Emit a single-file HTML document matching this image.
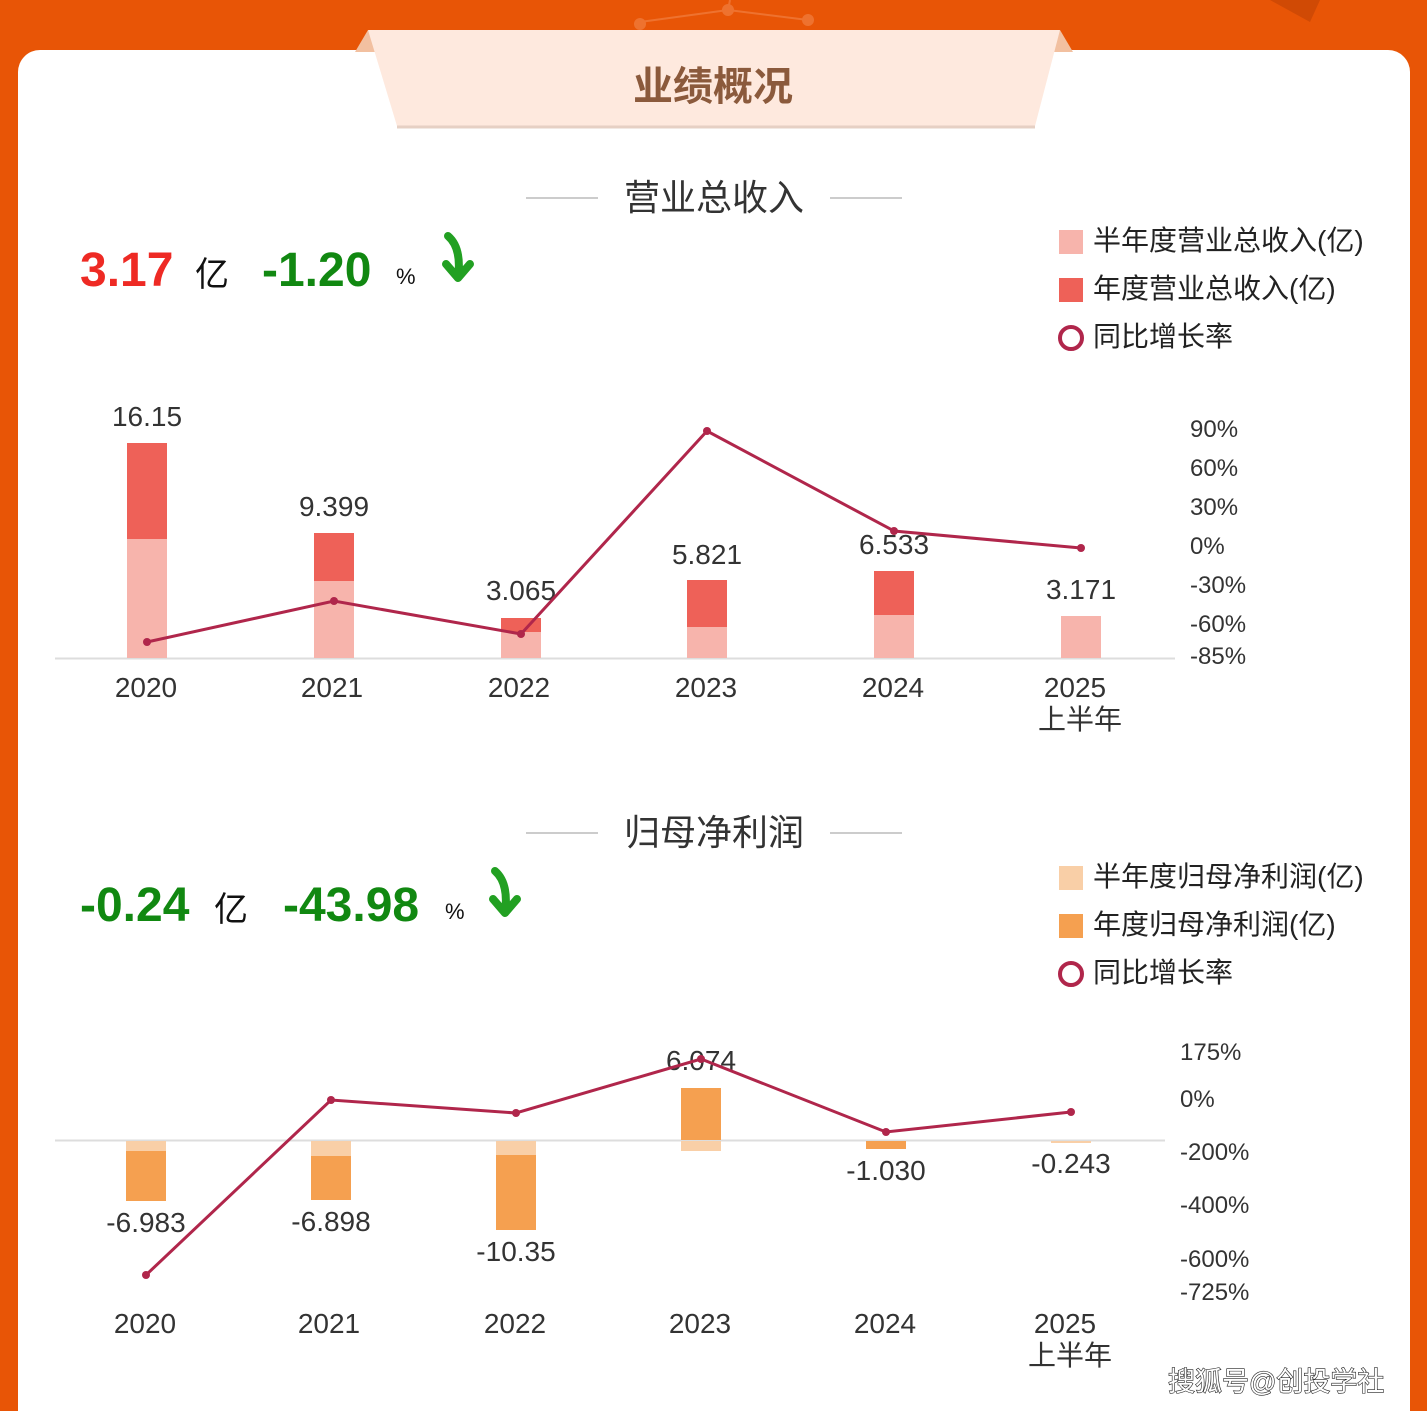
<!DOCTYPE html>
<html><head><meta charset="utf-8"><style>
html,body{margin:0;padding:0;background:#E85506;}
svg{display:block;font-family:"Liberation Sans","Noto Sans CJK SC",sans-serif;}
</style></head><body>
<svg width="1427" height="1411" viewBox="0 0 1427 1411" xmlns="http://www.w3.org/2000/svg">
<rect width="1427" height="1411" fill="#E85506"/>
<g stroke="#F07A3A" stroke-width="2" fill="#F07A3A" opacity="0.8">
<line x1="640" y1="22" x2="728" y2="10"/><line x1="728" y1="10" x2="808" y2="20"/><line x1="728" y1="10" x2="730" y2="0"/>
<circle cx="640" cy="24" r="5"/><circle cx="728" cy="10" r="5"/><circle cx="808" cy="20" r="5"/></g>
<path d="M1270 0 L1320 0 L1310 22 Z" fill="#D04A05"/>
<rect x="18" y="50" width="1392" height="1400" rx="22" fill="#fff"/>
<polygon points="355,52 368,30 378,52" fill="#F2C0A0"/>
<polygon points="1050,52 1060,30 1073,52" fill="#F2C0A0"/>
<polygon points="368,30 1060,30 1035,126 397,126" fill="#FEE9DE"/>
<line x1="397" y1="127" x2="1035" y2="127" stroke="#E6D0C4" stroke-width="3"/>
<text x="713" y="100" text-anchor="middle" font-size="40" font-weight="bold" fill="#8B5A3C">业绩概况</text>

<!-- Chart 1 -->
<line x1="526" y1="198" x2="598" y2="198" stroke="#ccc" stroke-width="2"/>
<line x1="830" y1="198" x2="902" y2="198" stroke="#ccc" stroke-width="2"/>
<text x="714" y="210" text-anchor="middle" font-size="36" fill="#333">营业总收入</text>
<text x="80" y="286" font-size="48" font-weight="bold" fill="#EE2A24">3.17</text>
<text x="195" y="286" font-size="34" fill="#111">亿</text>
<text x="262" y="286" font-size="48" font-weight="bold" fill="#118811">-1.20</text>
<text x="396" y="284" font-size="22" fill="#111">%</text>
<path d="M448 236 Q462 248 458 278 M446 264 L458 278 L470 264" fill="none" stroke="#22A022" stroke-width="8" stroke-linecap="round" stroke-linejoin="round"/>

<rect x="1059" y="230" width="24" height="24" fill="#F7B4AC"/>
<text x="1093" y="250" font-size="28" fill="#222">半年度营业总收入(亿)</text>
<rect x="1059" y="278" width="24" height="24" fill="#EE6158"/>
<text x="1093" y="298" font-size="28" fill="#222">年度营业总收入(亿)</text>
<circle cx="1071" cy="338" r="11" fill="none" stroke="#B0264B" stroke-width="4"/>
<text x="1093" y="346" font-size="28" fill="#222">同比增长率</text>

<line x1="55" y1="658.5" x2="1175" y2="658.5" stroke="#ddd" stroke-width="2"/>
<g>
<rect x="127" y="443" width="40" height="96" fill="#EE6158"/><rect x="127" y="539" width="40" height="119" fill="#F7B4AC"/>
<rect x="314" y="533" width="40" height="48" fill="#EE6158"/><rect x="314" y="581" width="40" height="77" fill="#F7B4AC"/>
<rect x="501" y="618" width="40" height="14" fill="#EE6158"/><rect x="501" y="632" width="40" height="26" fill="#F7B4AC"/>
<rect x="687" y="580" width="40" height="47" fill="#EE6158"/><rect x="687" y="627" width="40" height="31" fill="#F7B4AC"/>
<rect x="874" y="571" width="40" height="44" fill="#EE6158"/><rect x="874" y="615" width="40" height="43" fill="#F7B4AC"/>
<rect x="1061" y="616" width="40" height="42" fill="#F7B4AC"/>
</g>
<g font-size="28" fill="#333" text-anchor="middle">
<text x="147" y="426">16.15</text><text x="334" y="516">9.399</text><text x="521" y="600">3.065</text>
<text x="707" y="564">5.821</text><text x="894" y="554">6.533</text><text x="1081" y="599">3.171</text>
<text x="146" y="697">2020</text><text x="332" y="697">2021</text><text x="519" y="697">2022</text>
<text x="706" y="697">2023</text><text x="893" y="697">2024</text><text x="1075" y="697">2025</text>
<text x="1080" y="729">上半年</text>
</g>
<polyline points="147,642 334,601 521,634 707,431 894,531 1081,548" fill="none" stroke="#B0264B" stroke-width="3"/>
<g fill="#B0264B"><circle cx="147" cy="642" r="4"/><circle cx="334" cy="601" r="4"/><circle cx="521" cy="634" r="4"/><circle cx="707" cy="431" r="4"/><circle cx="894" cy="531" r="4"/><circle cx="1081" cy="548" r="4"/></g>
<g font-size="24" fill="#333">
<text x="1190" y="437">90%</text><text x="1190" y="476">60%</text><text x="1190" y="515">30%</text>
<text x="1190" y="554">0%</text><text x="1190" y="593">-30%</text><text x="1190" y="632">-60%</text><text x="1190" y="664">-85%</text>
</g>

<!-- Chart 2 -->
<line x1="526" y1="833" x2="598" y2="833" stroke="#ccc" stroke-width="2"/>
<line x1="830" y1="833" x2="902" y2="833" stroke="#ccc" stroke-width="2"/>
<text x="714" y="845" text-anchor="middle" font-size="36" fill="#333">归母净利润</text>
<text x="80" y="921" font-size="48" font-weight="bold" fill="#118811">-0.24</text>
<text x="214" y="921" font-size="34" fill="#111">亿</text>
<text x="283" y="921" font-size="48" font-weight="bold" fill="#118811">-43.98</text>
<text x="445" y="919" font-size="22" fill="#111">%</text>
<path d="M495 871 Q509 883 505 913 M493 899 L505 913 L517 899" fill="none" stroke="#22A022" stroke-width="8" stroke-linecap="round" stroke-linejoin="round"/>

<rect x="1059" y="866" width="24" height="24" fill="#F9CFA7"/>
<text x="1093" y="886" font-size="28" fill="#222">半年度归母净利润(亿)</text>
<rect x="1059" y="914" width="24" height="24" fill="#F5A050"/>
<text x="1093" y="934" font-size="28" fill="#222">年度归母净利润(亿)</text>
<circle cx="1071" cy="974" r="11" fill="none" stroke="#B0264B" stroke-width="4"/>
<text x="1093" y="982" font-size="28" fill="#222">同比增长率</text>

<line x1="55" y1="1140.5" x2="1165" y2="1140.5" stroke="#ddd" stroke-width="2"/>
<g>
<rect x="126" y="1141" width="40" height="10" fill="#F9CFA7"/><rect x="126" y="1151" width="40" height="50" fill="#F5A050"/>
<rect x="311" y="1141" width="40" height="15" fill="#F9CFA7"/><rect x="311" y="1156" width="40" height="44" fill="#F5A050"/>
<rect x="496" y="1141" width="40" height="14" fill="#F9CFA7"/><rect x="496" y="1155" width="40" height="75" fill="#F5A050"/>
<rect x="681" y="1088" width="40" height="52" fill="#F5A050"/><rect x="681" y="1141" width="40" height="10" fill="#F9CFA7"/>
<rect x="866" y="1141" width="40" height="8" fill="#F5A050"/>
<rect x="1051" y="1141" width="40" height="2" fill="#F9CFA7"/>
</g>
<g font-size="28" fill="#333" text-anchor="middle">
<text x="146" y="1232">-6.983</text><text x="331" y="1231">-6.898</text><text x="516" y="1261">-10.35</text>
<text x="701" y="1070">6.074</text><text x="886" y="1180">-1.030</text><text x="1071" y="1173">-0.243</text>
<text x="145" y="1333">2020</text><text x="329" y="1333">2021</text><text x="515" y="1333">2022</text>
<text x="700" y="1333">2023</text><text x="885" y="1333">2024</text><text x="1065" y="1333">2025</text>
<text x="1070" y="1365">上半年</text>
</g>
<polyline points="146,1275 331,1100 516,1113 701,1059 886,1132 1071,1112" fill="none" stroke="#B0264B" stroke-width="3"/>
<g fill="#B0264B"><circle cx="146" cy="1275" r="4"/><circle cx="331" cy="1100" r="4"/><circle cx="516" cy="1113" r="4"/><circle cx="701" cy="1059" r="4"/><circle cx="886" cy="1132" r="4"/><circle cx="1071" cy="1112" r="4"/></g>
<g font-size="24" fill="#333">
<text x="1180" y="1060">175%</text><text x="1180" y="1107">0%</text><text x="1180" y="1160">-200%</text>
<text x="1180" y="1213">-400%</text><text x="1180" y="1267">-600%</text><text x="1180" y="1300">-725%</text>
</g>
<text x="1168" y="1391" font-size="27" fill="#fff" stroke="#222" stroke-width="1.2" paint-order="stroke">搜狐号@创投学社</text>
<rect x="1410" y="0" width="17" height="1411" fill="#E85506"/>
</svg>
</body></html>
